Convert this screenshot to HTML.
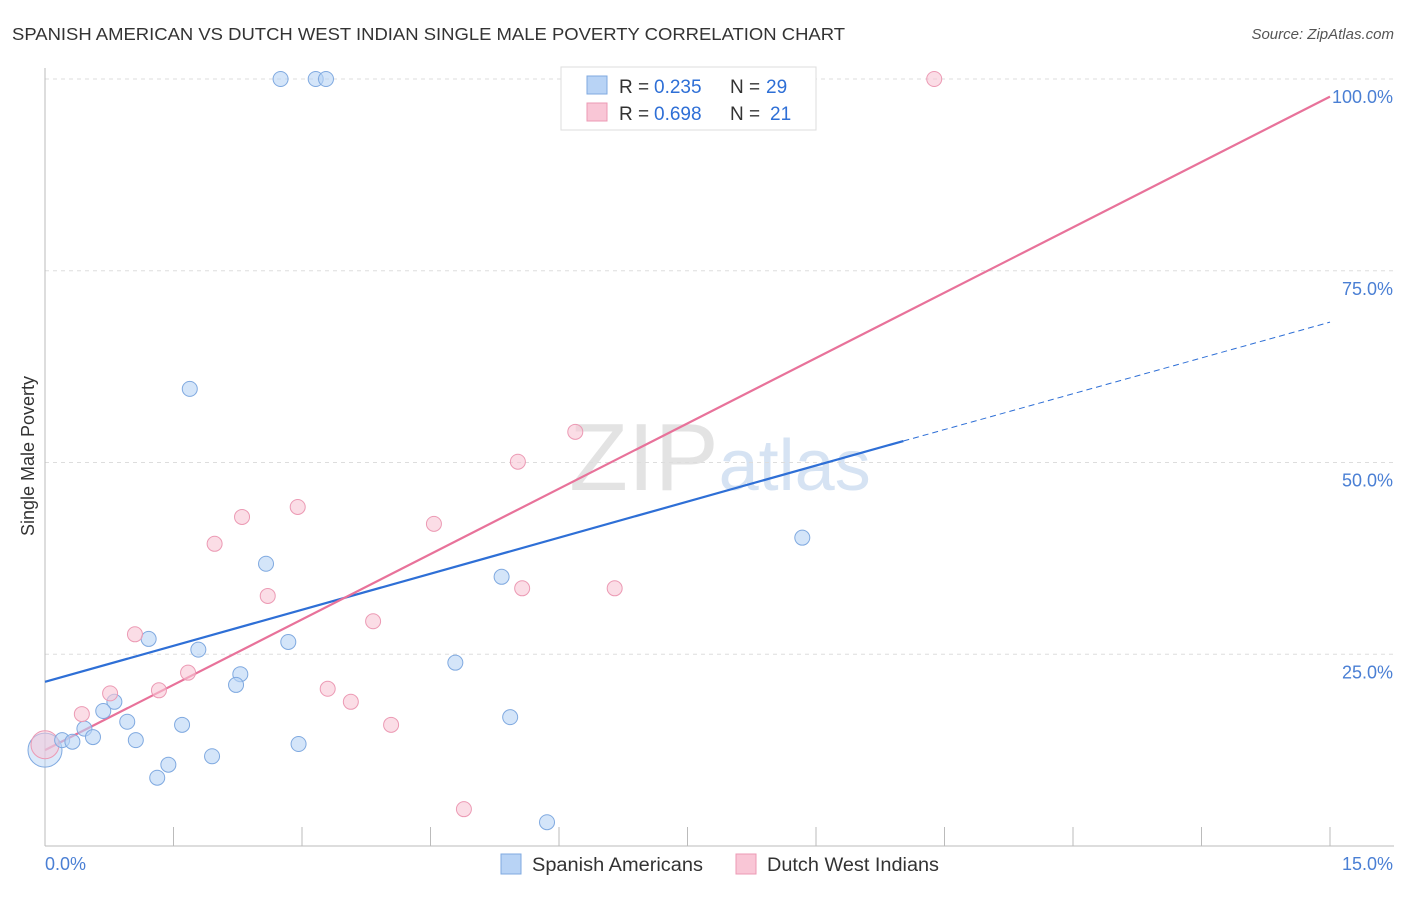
<!DOCTYPE html>
<html><head><meta charset="utf-8"><style>
body{margin:0;background:#fff;font-family:"Liberation Sans",sans-serif;}
svg text{font-family:"Liberation Sans",sans-serif;}
</style></head><body>
<svg id="chart" width="1406" height="892" viewBox="0 0 1406 892" xmlns="http://www.w3.org/2000/svg">
<text x="12" y="40" font-size="17.5" fill="#333" textLength="833" lengthAdjust="spacingAndGlyphs">SPANISH AMERICAN VS DUTCH WEST INDIAN SINGLE MALE POVERTY CORRELATION CHART</text>
<text x="1394" y="39" font-size="15" fill="#555" text-anchor="end" font-style="italic">Source: ZipAtlas.com</text>
<text x="720" y="490" font-size="96" fill="#e3e3e3" text-anchor="middle" font-family="Liberation Serif">ZIP<tspan fill="#d6e3f3" font-family="Liberation Sans" font-size="72">atlas</tspan></text>
<text transform="translate(34,456) rotate(-90)" font-size="18" fill="#333" text-anchor="middle">Single Male Poverty</text>
<g id="grid"></g><g id="axes"></g><g id="lines"></g><g id="points"></g>
<g>
<rect x="561" y="67" width="255" height="63" fill="#fff" stroke="#ddd"/>
<rect x="587" y="76" width="20" height="18" fill="#b8d3f5" stroke="#7fa9e0"/>
<text x="619" y="93" font-size="19" fill="#333">R =</text>
<text x="654" y="93" font-size="19" fill="#2e6fd6">0.235</text>
<text x="730" y="93" font-size="19" fill="#333">N =</text>
<text x="766" y="93" font-size="19" fill="#2e6fd6">29</text>
<rect x="587" y="103" width="20" height="18" fill="#f9c6d6" stroke="#ec9ab4"/>
<text x="619" y="120" font-size="19" fill="#333">R =</text>
<text x="654" y="120" font-size="19" fill="#2e6fd6">0.698</text>
<text x="730" y="120" font-size="19" fill="#333">N =</text>
<text x="770" y="120" font-size="19" fill="#2e6fd6">21</text>
</g>
<g>
<rect x="501" y="854" width="20" height="20" fill="#b8d3f5" stroke="#7fa9e0"/>
<text x="532" y="871" font-size="19" fill="#333" textLength="171" lengthAdjust="spacingAndGlyphs">Spanish Americans</text>
<rect x="736" y="854" width="20" height="20" fill="#f9c6d6" stroke="#ec9ab4"/>
<text x="767" y="871" font-size="19" fill="#333" textLength="172" lengthAdjust="spacingAndGlyphs">Dutch West Indians</text>
</g>
</svg>
<script>
const blueX=[2.75,3.16,3.28,1.69,2.58,1.21,1.79,2.84,2.28,2.23,0.81,0.68,0.96,1.60,0.46,0.56,0.20,0.32,1.06,1.95,1.44,1.31,2.96,4.79,5.33,5.43,5.86,8.84];
const blueY=[100,100,100,59.6,36.8,27.0,25.6,26.6,22.4,21.0,18.8,17.6,16.2,15.8,15.3,14.2,13.8,13.6,13.8,11.7,10.6,8.9,13.3,23.9,35.1,16.8,3.1,40.2];
const pinkX=[10.38,6.19,5.52,2.95,2.30,4.54,1.98,2.60,5.57,6.65,3.83,1.05,1.67,1.33,3.30,3.57,0.76,0.43,4.04,4.89];
const pinkY=[100,54.0,50.1,44.2,42.9,42.0,39.4,32.6,33.6,33.6,29.3,27.6,22.6,20.3,20.5,18.8,19.9,17.2,15.8,4.8];
const blueLine=[21.4,52.8,68.3]; // at x=0, 10.02, 15
const pinkLine=[12.5,97.7]; // at x=0, 15
const yTicks=[25,50,75,100];
const yTickLabels=["25.0%","50.0%","75.0%","100.0%"];
const xTicks=[0,1.5,3,4.5,6,7.5,9,10.5,12,13.5,15];
const NS="http://www.w3.org/2000/svg";
const sx=v=>45+v*(1285/15);
const sy=v=>846-v*7.67;
function mk(tag,attrs,parent){const e=document.createElementNS(NS,tag);for(const k in attrs)e.setAttribute(k,attrs[k]);parent.appendChild(e);return e;}
const grid=document.getElementById('grid'),axes=document.getElementById('axes'),lines=document.getElementById('lines'),pts=document.getElementById('points');
yTicks.forEach((t,i)=>{
 const l=mk('line',{x1:45,x2:1394,y1:sy(t),y2:sy(t),stroke:'#ddd','stroke-dasharray':'4,4'},grid);
 
 
 const tx=mk('text',{x:1393,y:sy(t)+24,'font-size':18,fill:'#4a7fd4','text-anchor':'end'},axes);
 tx.textContent=yTickLabels[i];
 
 
});
const ax=mk('line',{x1:45,x2:1394,y1:846,y2:846,stroke:'#bbb'},axes);


const ay=mk('line',{x1:45,x2:45,y1:68,y2:846,stroke:'#bbb'},axes);


xTicks.forEach(t=>{
 const l=mk('line',{x1:sx(t),x2:sx(t),y1:827,y2:846,stroke:'#bbb'},axes);
 
 
});
const xl0=mk('text',{x:45,y:870,'font-size':18,fill:'#4a7fd4'},axes);xl0.textContent='0.0%';


const xl1=mk('text',{x:1393,y:870,'font-size':18,fill:'#4a7fd4','text-anchor':'end'},axes);xl1.textContent='15.0%';


const bb=mk('circle',{cx:sx(0),cy:sy(12.5),r:17,fill:'rgba(184,211,245,0.5)',stroke:'#7fa9e0'},pts);


const pb=mk('circle',{cx:sx(0),cy:sy(13.2),r:14,fill:'rgba(249,198,214,0.5)',stroke:'#ec9ab4'},pts);


blueX.forEach((x,i)=>{
 const c=mk('circle',{cx:sx(x),cy:sy(blueY[i]),r:7.5,fill:'rgba(184,211,245,0.6)',stroke:'#7fa9e0'},pts);
 
 
});
pinkX.forEach((x,i)=>{
 const c=mk('circle',{cx:sx(x),cy:sy(pinkY[i]),r:7.5,fill:'rgba(249,198,214,0.6)',stroke:'#ec9ab4'},pts);
 
 
});
const bl=mk('line',{x1:sx(0),y1:sy(blueLine[0]),x2:sx(10.02),y2:sy(blueLine[1]),stroke:'#2e6fd6','stroke-width':2.2},lines);


const bd=mk('line',{x1:sx(10.02),y1:sy(blueLine[1]),x2:sx(15),y2:sy(blueLine[2]),stroke:'#2e6fd6','stroke-width':1,'stroke-dasharray':'6,4'},lines);


const pl=mk('line',{x1:sx(0),y1:sy(pinkLine[0]),x2:sx(15),y2:sy(pinkLine[1]),stroke:'#e8729a','stroke-width':2.2},lines);


</script>
</body></html>
